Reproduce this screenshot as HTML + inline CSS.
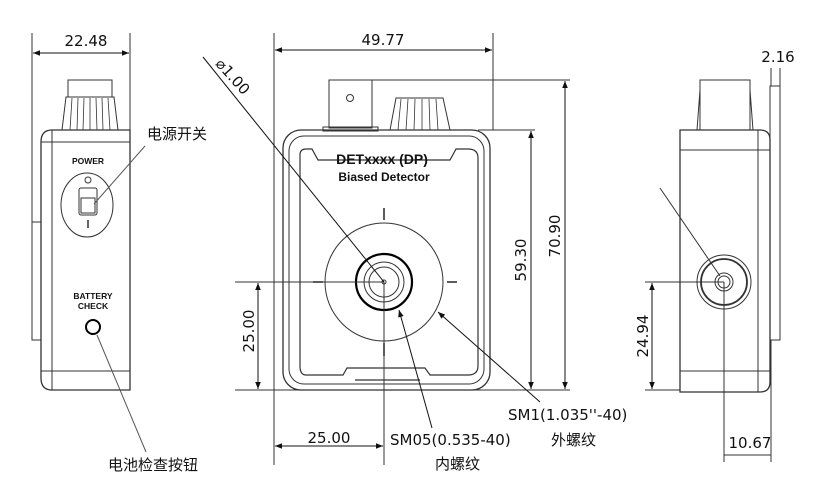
<!DOCTYPE html>
<html><head><meta charset="utf-8"><style>
html,body{margin:0;padding:0;background:#fff;}
svg{display:block;}
text{font-family:"Liberation Sans","Noto Sans CJK SC",sans-serif;fill:#111;}
.cn{font-family:"Noto Sans CJK SC",sans-serif;font-size:15px;}
.dim{font-family:"DejaVu Sans","Liberation Sans",sans-serif;font-size:15px;}
</style></head><body>
<svg width="815" height="489" viewBox="0 0 815 489" xmlns="http://www.w3.org/2000/svg">
<defs>
<marker id="a" viewBox="0 0 10 10" refX="10" refY="5" markerWidth="9" markerHeight="7" orient="auto-start-reverse" markerUnits="userSpaceOnUse"><path d="M0,1 L10,5 L0,9 z" fill="#111"/></marker>
</defs>
<g stroke="#333" fill="none" stroke-width="1">
<line x1="32" y1="33" x2="32" y2="222"/>
<line x1="130" y1="33" x2="130" y2="130"/>
<line x1="33" y1="53" x2="129" y2="53" marker-start="url(#a)" marker-end="url(#a)" stroke="#111"/>
<rect x="32" y="222" width="9" height="118"/>
<path d="M52,130 H130 V390 H52 Q41,390 41,378 V142 Q41,130 52,130 Z" stroke-width="1.3"/>
<line x1="52" y1="130" x2="52" y2="390"/>
<line x1="41" y1="142" x2="130" y2="142"/>
<line x1="41" y1="371" x2="130" y2="371"/>
<rect x="68" y="80" width="44" height="17"/>
<path d="M66,97 H114 L118,130 H62 Z"/>
<path d="M72,98 L70,130 M78,98 L77,130 M84,98 L83,130 M90,98 L90,130 M96,98 L97,130 M102,98 L103,130 M108,98 L110,130" stroke-width="0.8"/>
<ellipse cx="87" cy="205" rx="26" ry="32"/>
<circle cx="88" cy="180" r="3"/>
<rect x="79" y="188" width="18" height="27" rx="2"/>
<rect x="81" y="198" width="14" height="15"/>
<line x1="88" y1="220" x2="88" y2="228" stroke-width="1.5"/>
<circle cx="93" cy="327" r="7" stroke="#000" stroke-width="2"/>
<line x1="145" y1="146" x2="94" y2="204" stroke="#555"/>
<line x1="97" y1="335" x2="146" y2="452" stroke="#555"/>
<line x1="274" y1="33" x2="274" y2="465"/>
<line x1="493" y1="33" x2="493" y2="130"/>
<line x1="275" y1="50" x2="492" y2="50" marker-start="url(#a)" marker-end="url(#a)" stroke="#111"/>
<rect x="329" y="80" width="43" height="48"/>
<rect x="323" y="127" width="55" height="4"/>
<circle cx="350" cy="98" r="3.5"/>
<path d="M396,98 H443 L450,130 H390 Z"/>
<path d="M401,99 L398,130 M408,99 L406,130 M415,99 L414,130 M422,99 L422,130 M429,99 L430,130 M436,99 L438,130" stroke-width="0.8"/>
<rect x="283" y="130" width="207" height="260" rx="18" stroke-width="1.3"/>
<rect x="289" y="136" width="195" height="248" rx="15"/>
<path d="M300,155 Q300,149 306,149 H312 L318,160 H450 L456,149 H468 Q478,149 478,158 V366 Q478,375 468,375 H430 L425,368 H347 L343,375 H306 Q300,375 300,366 Z" stroke-width="1.2"/>
<line x1="355" y1="380" x2="420" y2="380" stroke-width="1.2"/>
<circle cx="384" cy="282" r="59"/>
<circle cx="384" cy="282" r="28" stroke="#000" stroke-width="2.2"/>
<circle cx="384" cy="282" r="20"/>
<circle cx="384" cy="282" r="15"/>
<circle cx="384" cy="282" r="2"/>
<line x1="384" y1="208" x2="384" y2="220" stroke-width="1.6"/>
<line x1="384" y1="343" x2="384" y2="356" stroke-width="1.6"/>
<line x1="313" y1="282" x2="323" y2="282" stroke-width="1.6"/>
<line x1="447" y1="282" x2="457" y2="282" stroke-width="1.6"/>
<line x1="235" y1="282" x2="384" y2="282"/>
<line x1="384" y1="282" x2="384" y2="465"/>
<line x1="235" y1="390" x2="570" y2="390"/>
<line x1="372" y1="80" x2="570" y2="80"/>
<line x1="478" y1="130" x2="535" y2="130"/>
<line x1="531" y1="131" x2="531" y2="389" marker-start="url(#a)" marker-end="url(#a)" stroke="#111"/>
<line x1="565" y1="81" x2="565" y2="389" marker-start="url(#a)" marker-end="url(#a)" stroke="#111"/>
<line x1="258" y1="283" x2="258" y2="389" marker-start="url(#a)" marker-end="url(#a)" stroke="#111"/>
<line x1="275" y1="446" x2="383" y2="446" marker-start="url(#a)" marker-end="url(#a)" stroke="#111"/>
<line x1="203" y1="57" x2="384" y2="282" stroke="#111"/>
<line x1="432" y1="428" x2="399" y2="310" stroke="#111" marker-end="url(#a)"/>
<line x1="540" y1="402" x2="438" y2="312" stroke="#111" marker-end="url(#a)"/>
<rect x="700" y="80" width="50" height="50"/>
<path d="M700,90 L697,130 M750,90 L753,130" />
<path d="M680,130 H760 Q770,130 770,140 V382 Q770,392 760,392 H680 Z" stroke-width="1.3"/>
<line x1="680" y1="150" x2="770" y2="150"/>
<line x1="680" y1="371" x2="770" y2="371"/>
<line x1="758" y1="130" x2="758" y2="392"/>
<rect x="770" y="86" width="10" height="254"/>
<circle cx="724" cy="282" r="27"/>
<circle cx="724" cy="282" r="23" stroke-width="1.8"/>
<circle cx="724" cy="282" r="9"/>
<circle cx="724" cy="282" r="6"/>
<line x1="660" y1="188" x2="720" y2="276"/>
<line x1="645" y1="282" x2="724" y2="282"/>
<line x1="645" y1="390" x2="680" y2="390"/>
<line x1="652" y1="283" x2="652" y2="389" marker-start="url(#a)" marker-end="url(#a)" stroke="#111"/>
<line x1="724" y1="282" x2="724" y2="462"/>
<line x1="771" y1="340" x2="771" y2="462"/>
<line x1="724" y1="455" x2="771" y2="455"/>
<line x1="771" y1="68" x2="771" y2="86"/>
<line x1="780" y1="68" x2="780" y2="86"/>
</g>
<text x="86" y="46" class="dim" text-anchor="middle">22.48</text>
<text x="88" y="164" font-size="8.5" font-weight="bold" text-anchor="middle" fill="#333">POWER</text>
<text x="93" y="299" font-size="8.5" font-weight="bold" text-anchor="middle" fill="#333">BATTERY</text>
<text x="93" y="309" font-size="8.5" font-weight="bold" text-anchor="middle" fill="#333">CHECK</text>
<text x="147" y="139" class="cn">电源开关</text>
<text x="108" y="470" class="cn">电池检查按钮</text>
<text x="383" y="45" class="dim" text-anchor="middle">49.77</text>
<text x="382" y="164" font-size="14" font-weight="bold" text-anchor="middle" fill="#555">DETxxxx (DP)</text>
<text x="384" y="181" font-size="12" font-weight="bold" text-anchor="middle" fill="#555">Biased Detector</text>
<text transform="translate(229,80) rotate(48)" class="dim" text-anchor="middle">⌀1.00</text>
<text transform="translate(526,260) rotate(-90)" class="dim" text-anchor="middle">59.30</text>
<text transform="translate(560,236) rotate(-90)" class="dim" text-anchor="middle">70.90</text>
<text transform="translate(254,331) rotate(-90)" class="dim" text-anchor="middle">25.00</text>
<text x="329" y="443" class="dim" text-anchor="middle">25.00</text>
<text x="508" y="420" class="dim">SM1(1.035''-40)</text>
<text x="551" y="445" class="cn">外螺纹</text>
<text x="390" y="445" class="dim">SM05(0.535-40)</text>
<text x="435" y="469" class="cn">内螺纹</text>
<text transform="translate(648,336) rotate(-90)" class="dim" text-anchor="middle">24.94</text>
<text x="750" y="448" class="dim" text-anchor="middle">10.67</text>
<text x="778" y="62" class="dim" text-anchor="middle">2.16</text>
</svg>
</body></html>
